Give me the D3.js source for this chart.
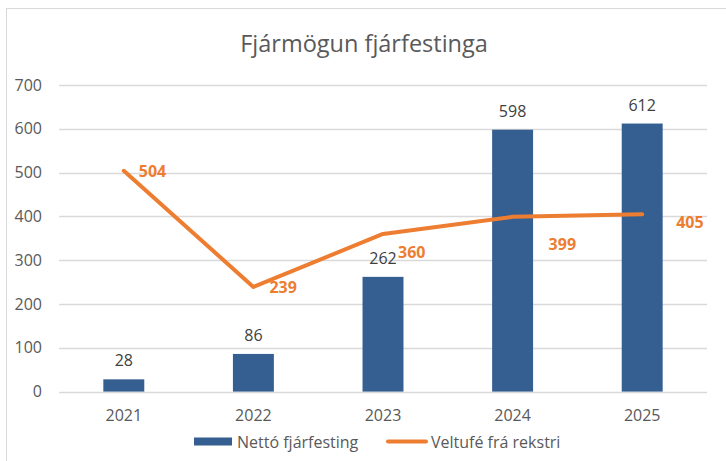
<!DOCTYPE html>
<html>
<head>
<meta charset="utf-8">
<script src="https://cdn.jsdelivr.net/npm/d3@7"></script>
<style>
  body { margin: 0; background: #fff; }
  svg { display: block; font-family: "Open Sans", sans-serif; }
</style>
</head>
<body>
<svg id="vis"></svg>
<script>
const width = 726;
const height = 461;

// data
const years = ["2021", "2022", "2023", "2024", "2025"];
const nettoFjarfesting = [28, 86, 262, 598, 612];
const veltufe = [504, 239, 360, 399, 405];
const yTicks = [0, 100, 200, 300, 400, 500, 600, 700];

// manual label nudges for the line labels (as placed in the original)
const lineLabelOffsets = [[15, 0], [16, 0], [15, 18], [36, 27], [34, 8]];

const colors = { bar: "#365f91", line: "#ed7d31", grid: "#d9d9d9", text: "#595959", label: "#404040" };

const svg = d3.select("#vis").attr("width", width).attr("height", height);

// outer chart border (cut off at the right and bottom)
svg.append("rect")
  .attr("x", 6.5).attr("y", 8.5)
  .attr("width", 740).attr("height", 470)
  .attr("fill", "none")
  .attr("stroke", colors.grid);

const x = d3.scaleBand().domain(years).range([59, 707]);
const y = d3.scaleLinear().domain([0, 700]).range([391.6, 85]);
const barWidth = x.bandwidth() * 0.316;

// title
svg.append("text")
  .attr("x", 364).attr("y", 52)
  .attr("text-anchor", "middle")
  .style("font-size", "23.5px")
  .style("fill", colors.text)
  .text("Fjármögun fjárfestinga");

// grid lines
svg.append("g").selectAll("line")
  .data(yTicks)
  .enter()
  .append("line")
  .attr("x1", 59).attr("x2", 707)
  .attr("y1", d => Math.round(y(d)) + 0.5)
  .attr("y2", d => Math.round(y(d)) + 0.5)
  .attr("stroke", colors.grid)
  .attr("stroke-width", 1.3);

// y axis labels
svg.append("g").selectAll("text")
  .data(yTicks)
  .enter()
  .append("text")
  .attr("x", 42)
  .attr("y", d => y(d) + 5.5)
  .attr("text-anchor", "end")
  .style("font-size", "16px")
  .style("fill", colors.text)
  .text(d => d);

// x axis labels
svg.append("g").selectAll("text")
  .data(years)
  .enter()
  .append("text")
  .attr("x", d => x(d) + x.bandwidth() / 2)
  .attr("y", 421)
  .attr("text-anchor", "middle")
  .style("font-size", "16px")
  .style("fill", colors.text)
  .text(d => d);

// bars
svg.append("g").selectAll("rect")
  .data(nettoFjarfesting)
  .enter()
  .append("rect")
  .attr("x", (d, i) => x(years[i]) + (x.bandwidth() - barWidth) / 2)
  .attr("y", d => y(d))
  .attr("width", barWidth)
  .attr("height", d => y(0) - y(d))
  .attr("fill", colors.bar);

// bar labels
svg.append("g").selectAll("text")
  .data(nettoFjarfesting)
  .enter()
  .append("text")
  .attr("x", (d, i) => x(years[i]) + x.bandwidth() / 2)
  .attr("y", d => y(d) - 13)
  .attr("text-anchor", "middle")
  .style("font-size", "16px")
  .style("fill", colors.label)
  .text(d => d);

// line
const line = d3.line()
  .x((d, i) => x(years[i]) + x.bandwidth() / 2)
  .y(d => y(d));

svg.append("path")
  .datum(veltufe)
  .attr("d", line)
  .attr("fill", "none")
  .attr("stroke", colors.line)
  .attr("stroke-width", 4)
  .attr("stroke-linecap", "round")
  .attr("stroke-linejoin", "round");

// line labels
svg.append("g").selectAll("text")
  .data(veltufe)
  .enter()
  .append("text")
  .attr("x", (d, i) => x(years[i]) + x.bandwidth() / 2 + lineLabelOffsets[i][0])
  .attr("y", (d, i) => y(d) + lineLabelOffsets[i][1] + 6)
  .style("font-size", "16px")
  .style("font-weight", "bold")
  .style("fill", colors.line)
  .text(d => d);

// legend
const legend = svg.append("g");
legend.append("rect")
  .attr("x", 194).attr("y", 437.5)
  .attr("width", 38).attr("height", 8)
  .attr("fill", colors.bar);
legend.append("text")
  .attr("x", 237).attr("y", 447.5)
  .style("font-size", "16px")
  .style("fill", colors.text)
  .text("Nettó fjárfesting");
legend.append("line")
  .attr("x1", 388).attr("x2", 426)
  .attr("y1", 441.5).attr("y2", 441.5)
  .attr("stroke", colors.line)
  .attr("stroke-width", 4)
  .attr("stroke-linecap", "round");
legend.append("text")
  .attr("x", 431).attr("y", 447.5)
  .style("font-size", "16px")
  .style("fill", colors.text)
  .text("Veltufé frá rekstri");
</script>
</body>
</html>
